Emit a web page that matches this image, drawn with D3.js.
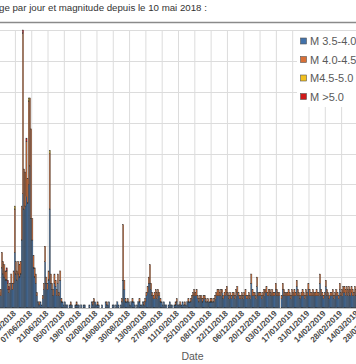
<!DOCTYPE html>
<html><head><meta charset="utf-8">
<script src="https://cdn.jsdelivr.net/npm/d3@7/dist/d3.min.js"></script>
<style>body{margin:0;background:#fff;overflow:hidden}svg{display:block}</style>
</head><body>
<script>
// Day-by-day counts from 10/05/2018 (one value per day)
const startDate = "2018-05-10";
const seriesNames = ["M 3.5-4.0", "M 4.0-4.5", "M4.5-5.0", "M >5.0"];
const blueM35 = [
 4,4,13,11,10,9,9,6,5,6,8,6,8,18,
 11,9,11,10,11,22,37,32,33,36,34,40,46,29,
 22,13,10,8,4,2,1,2,1,3,6,15,8,6,
 9,32,8,6,4,8,7,4,8,4,9,2,2,1,
 2,1,1,0,1,1,1,0,0,1,1,1,1,0,
 1,0,1,1,0,0,0,1,0,2,1,2,2,1,
 1,1,0,0,1,0,0,2,1,1,2,0,0,1,
 1,0,1,2,1,0,1,2,9,6,2,2,2,2,
 1,2,2,2,1,0,1,2,2,1,1,2,1,2,
 4,5,8,8,6,4,3,3,4,3,4,4,2,2,
 1,2,1,1,0,1,2,1,1,0,1,1,2,1,
 1,1,1,2,1,1,1,2,2,2,2,3,4,4,
 4,4,3,2,3,3,2,3,3,2,2,2,2,2,
 2,2,2,3,4,4,4,4,4,5,3,4,4,5,
 4,3,4,3,4,4,3,4,5,4,3,3,4,3,
 4,4,3,3,4,3,8,4,4,4,3,7,4,4,
 4,3,4,4,5,5,4,4,5,4,4,4,4,6,
 4,4,4,0,3,6,4,4,4,4,4,4,3,4,
 4,4,4,7,4,4,3,4,4,4,3,4,4,6,
 4,4,4,4,4,4,4,4,4,8,4,4,3,4,
 7,4,4,3,4,4,4,3,4,4,4,3,6,4,
 4,5,5,4,5,4,5,4,5,4,4,5,4];
const orangeM40 = [
 1,2,5,4,4,3,3,2,1,2,3,2,4,14,
 4,3,4,4,4,11,52,13,11,18,8,27,22,29,
 7,4,3,3,1,0,1,0,0,1,2,5,2,2,
 3,18,3,2,2,3,2,2,3,1,3,1,0,0,
 0,0,0,0,0,1,0,0,0,0,1,0,0,0,
 0,0,0,0,0,0,0,0,0,0,1,1,0,0,
 1,0,0,0,0,0,0,0,1,0,0,0,0,0,
 0,0,0,0,0,0,0,1,18,3,1,0,1,0,
 0,0,1,0,0,0,0,0,1,0,0,0,1,1,
 1,2,2,6,2,1,1,2,2,2,2,1,1,0,
 0,0,0,0,0,0,0,0,0,0,0,1,1,0,
 0,1,0,0,0,1,0,0,1,0,1,1,1,2,
 1,2,1,1,1,1,1,1,1,1,0,1,0,1,
 1,0,1,1,1,2,2,1,2,1,1,1,2,2,
 1,1,1,1,1,1,1,2,2,1,1,1,1,1,
 1,2,1,1,1,1,3,2,1,1,1,3,1,1,
 1,1,1,2,1,2,1,2,1,1,2,1,1,2,
 2,1,1,0,1,2,2,1,1,1,2,1,1,2,
 1,2,1,2,2,1,1,1,2,1,1,2,1,2,
 2,1,1,2,1,1,2,1,1,3,2,1,1,1,
 2,2,1,1,1,1,2,1,1,2,1,1,2,1,
 2,2,2,2,2,2,2,2,2,2,1,2,2];
// sparse series: [day index, count]
const yellowM45 = [[13,1],[25,1],[43,1]];
const redM50 = [[6,1],[7,1],[8,1],[20,1],[23,1]];
const yTicks = [0,10,20,30,40,50,60,70,80,90];
const colors = ["#4272aa", "#d86f36", "#f2c01e", "#d01818"];

const W = 356, H = 364;
const svg = d3.select("body").append("svg").attr("width", W).attr("height", H)
  .style("font-family", "'Liberation Sans', Arial, sans-serif");

const parse = d3.utcParse("%Y-%m-%d");
const d0 = parse(startDate);
const nDays = blueM35.length;
const dates = d3.range(nDays).map(i => d3.utcDay.offset(d0, i));

const x = d3.scaleUtc().domain([d0, d3.utcDay.offset(d0, 300)]).range([-0.9, -0.9 + 300 * 1.165]);
const y = d3.scaleLinear().domain([0, 90]).range([308, 30]);

// title
svg.append("text").attr("x", -1).attr("y", 11).attr("font-size", 9.7).attr("fill", "#333")
  .text("ge par jour et magnitude depuis le 10 mai 2018 :");
svg.append("line").attr("x1", 0).attr("x2", W).attr("y1", 22.5).attr("y2", 22.5)
  .attr("stroke", "#8a8a8a").attr("stroke-width", 1.3);

// gridlines
svg.append("g").selectAll("line").data(yTicks).join("line")
  .attr("x1", 0).attr("x2", W).attr("y1", d => Math.round(y(d)) + 0.5).attr("y2", d => Math.round(y(d)) + 0.5)
  .attr("stroke", "#dcdcdc").attr("stroke-width", 1);
const tickDates = d3.utcDay.every(1).range(d0, d3.utcDay.offset(d0, 330)).filter((d, i) => i % 14 === 0);
svg.append("g").selectAll("line").data(tickDates).join("line")
  .attr("x1", d => x(d)).attr("x2", d => x(d)).attr("y1", y(90)).attr("y2", y(0))
  .attr("stroke", "#dcdcdc").attr("stroke-width", 1);

// stack data
const table = dates.map((d, i) => ({date: d, b: blueM35[i] || 0, o: orangeM40[i] || 0, yl: 0, r: 0}));
yellowM45.forEach(([i, v]) => { if (table[i]) table[i].yl = v; });
redM50.forEach(([i, v]) => { if (table[i]) table[i].r = v; });
const stack = d3.stack().keys(["b", "o", "yl", "r"])(table);

const g = svg.append("g");
stack.forEach((layer, li) => {
  g.append("g").selectAll("rect").data(layer.filter(s => s[1] > s[0])).join("rect")
    .attr("x", s => x(s.data.date))
    .attr("width", s => x(d3.utcDay.offset(s.data.date, 1)) - x(s.data.date))
    .attr("y", s => y(s[1]))
    .attr("height", s => y(s[0]) - y(s[1]))
    .attr("fill", colors[li]).attr("stroke", "#333").attr("stroke-width", 0.4);
});

// baseline
svg.append("line").attr("x1", 0).attr("x2", W).attr("y1", 308.5).attr("y2", 308.5)
  .attr("stroke", "#bfbfbf").attr("stroke-width", 1);

// x tick labels
const fmt = d3.utcFormat("%d/%m/%Y");
svg.append("g").selectAll("text").data(tickDates).join("text")
  .attr("transform", d => `translate(${x(d) + 1},${314}) rotate(-45)`)
  .attr("text-anchor", "end").attr("font-size", 8.2).attr("font-weight", "bold").attr("fill", "#4a4a4a")
  .text(d => fmt(d));

svg.append("text").attr("x", 192.5).attr("y", 360).attr("text-anchor", "middle")
  .attr("font-size", 10.5).attr("fill", "#595959").text("Date");

// legend
const lg = svg.append("g");
lg.append("rect").attr("x", 297).attr("y", 31).attr("width", 60).attr("height", 76).attr("fill", "#fff");
seriesNames.forEach((n, i) => {
  const cy = 41 + i * 18.5;
  lg.append("rect").attr("x", 300.5).attr("y", cy - 3).attr("width", 6).attr("height", 6)
    .attr("fill", colors[i]).attr("stroke", "#555").attr("stroke-width", 0.6);
  lg.append("text").attr("x", 310).attr("y", cy + 4).attr("font-size", 11).attr("fill", "#595959").text(n);
});
</script>
</body></html>
